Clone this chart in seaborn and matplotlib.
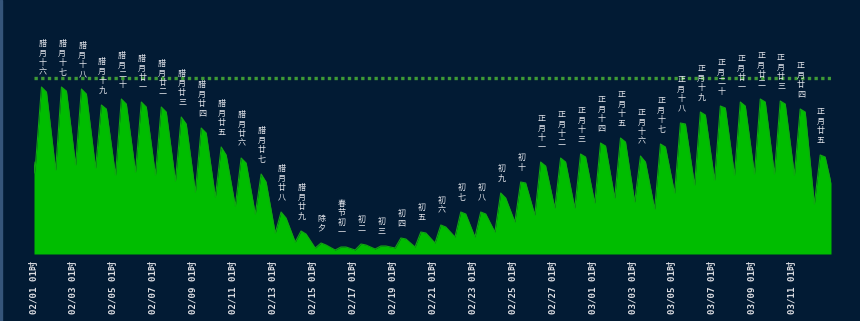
import matplotlib
matplotlib.use("Agg")
import matplotlib.pyplot as plt
from matplotlib.patches import Rectangle
import seaborn as sns
import pandas as pd

sns.set_theme(style="dark")
plt.rcParams['font.family'] = ['Noto Sans CJK SC', 'DejaVu Sans']

# ---------------- data ----------------
year_start = "2018-02-01"
n_days = 40
start_vals = [92, 81]               # 02/01 01时, 02时
peak_vals = [167, 167, 165, 149, 155, 152, 147, 137, 126, 107,
             96, 80, 42, 23, 11, 7, 10, 8, 16, 22,
             29, 42, 42, 61, 72, 92, 96, 100, 111, 116,
             98, 110, 131, 142, 148, 152, 155, 153, 145, 99]
shoulder_vals = [162, 163, 160, 145, 150, 147, 142, 130, 121, 99,
                 91, 72, 36, 20, 9, 7, 9, 8, 15, 21,
                 27, 40, 40, 56, 71, 88, 92, 97, 108, 112,
                 92, 107, 130, 139, 146, 148, 152, 150, 142, 97]
trough_vals = [84, 89, 86, 79, 82, 79, 73, 62, 57, 48,
               40, 21, 12, 6, 4, 4, 5, 6, 7, 11,
               17, 17, 22, 32, 39, 46, 46, 51, 56, 52,
               45, 61, 69, 74, 79, 80, 80, 79, 50, 71]
peak_hour = 10
shoulder_hour = 16
trough_hour = 3
end_hour = 23
label_hour = 11
threshold = 176

lunar_labels = ['腊月十六', '腊月十七', '腊月十八', '腊月十九', '腊月二十', '腊月廿一',
                '腊月廿二', '腊月廿三', '腊月廿四', '腊月廿五', '腊月廿六', '腊月廿七',
                '腊月廿八', '腊月廿九', '除夕', '春节初一', '初二', '初三', '初四', '初五',
                '初六', '初七', '初八', '初九', '初十', '正月十一', '正月十二', '正月十三',
                '正月十四', '正月十五', '正月十六', '正月十七', '正月十八', '正月十九',
                '正月二十', '正月廿一', '正月廿二', '正月廿三', '正月廿四', '正月廿五']

tick_labels = ['02/01 01时', '02/03 01时', '02/05 01时', '02/07 01时', '02/09 01时',
               '02/11 01时', '02/13 01时', '02/15 01时', '02/17 01时', '02/19 01时',
               '02/21 01时', '02/23 01时', '02/25 01时', '02/27 01时', '03/01 01时',
               '03/03 01时', '03/05 01时', '03/07 01时', '03/09 01时', '03/11 01时']

# ---------------- build series ----------------
t0 = pd.Timestamp(year_start)
times = [t0 + pd.Timedelta(hours=1), t0 + pd.Timedelta(hours=2)]
vals = list(start_vals)
label_times = []
for d in range(n_days):
    day = t0 + pd.Timedelta(days=d)
    label_times.append(day + pd.Timedelta(hours=label_hour))
    times += [day + pd.Timedelta(hours=peak_hour), day + pd.Timedelta(hours=shoulder_hour)]
    vals += [peak_vals[d], shoulder_vals[d]]
    if d < n_days - 1:
        times.append(day + pd.Timedelta(days=1, hours=trough_hour))
    else:
        times.append(day + pd.Timedelta(hours=end_hour))
    vals.append(trough_vals[d])
df = pd.DataFrame({"time": times, "value": vals})

tick_times = pd.date_range(t0 + pd.Timedelta(hours=1), periods=len(tick_labels), freq="2D")

# ---------------- style ----------------
BG = '#021b34'
FILL = '#00bd00'
EDGE = '#12a612'
DOT = '#3e9a36'
TXT = '#e6e8ee'

W, H = 860, 321
fig = plt.figure(figsize=(W / 100, H / 100), dpi=100, facecolor=BG)
ax = fig.add_axes([34 / W, (H - 254) / H, (831 - 34) / W, 244 / H])
ax.set_facecolor(BG)

ax.fill_between(df["time"], df["value"], 0, color=FILL, lw=0, zorder=2)
sns.lineplot(data=df, x="time", y="value", ax=ax, color=EDGE, lw=0.8, zorder=3)
ax.axhline(threshold, color=DOT, lw=2.4, linestyle=(0, (1, 1)), zorder=4)

for lt, pv, lab in zip(label_times, peak_vals, lunar_labels):
    ax.annotate("\n".join(lab), xy=(lt, pv), xytext=(0, 7.5), textcoords="offset points",
                ha="center", va="bottom", fontsize=5.8, color=TXT, linespacing=1.08,
                family=['Noto Sans CJK SC', 'DejaVu Sans'], zorder=5)

ax.set_xlim(df["time"].iloc[0], df["time"].iloc[-1])
ax.set_ylim(0, 244)
ax.set_xticks(tick_times)
ax.set_xticklabels(tick_labels, rotation=90, fontsize=6.6, color='#dcdde2',
                   family=['DejaVu Sans Mono', 'Noto Sans CJK SC'], fontweight='bold')
ax.tick_params(axis='x', length=0, pad=5)
ax.set_yticks([])
ax.set_xlabel("")
ax.set_ylabel("")
ax.grid(False)
for s in ax.spines.values():
    s.set_visible(False)

fig.patches.append(Rectangle((0, 0), 2 / W, 1, transform=fig.transFigure,
                             color='#35557a', zorder=10))

fig.savefig("out.png", dpi=100, facecolor=BG)
